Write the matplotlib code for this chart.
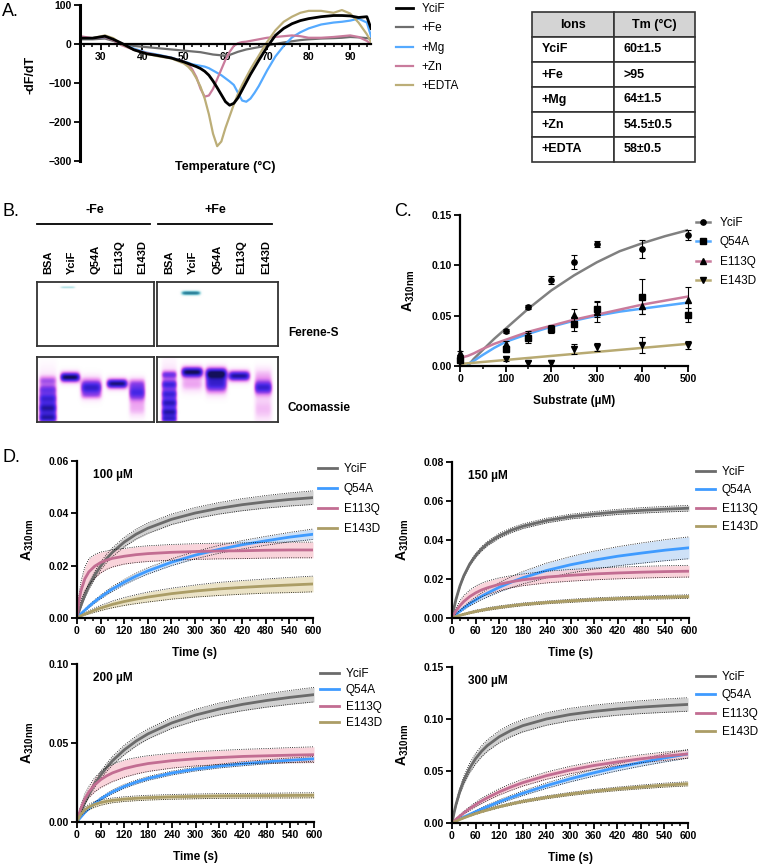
import numpy as np
import matplotlib
matplotlib.use('Agg')
import matplotlib.pyplot as plt
from matplotlib.ticker import MultipleLocator, FormatStrFormatter
from matplotlib.colors import LinearSegmentedColormap
from matplotlib.lines import Line2D

plt.rcParams['font.family'] = ['Liberation Sans', 'DejaVu Sans']
plt.rcParams['mathtext.fontset'] = 'custom'
plt.rcParams['mathtext.rm'] = 'Liberation Sans'
plt.rcParams['mathtext.bf'] = 'Liberation Sans:bold'

#Panel A - melt curves
tempA = [25, 28, 31, 33, 35, 38, 41, 44, 47, 50, 51, 52, 53, 54, 55, 56, 57, 58, 59, 60, 61,
         62, 63, 64, 65, 66, 67, 68, 69, 70, 72, 74, 76, 78, 80, 83, 86, 88, 90, 92, 94, 95]
yciF_A = [15, 15, 20, 12, 2, -15, -25, -30, -36, -46, -50, -54, -58, -63, -70, -80, -95, -112, -130, -148, -157,
          -152, -138, -118, -98, -78, -60, -42, -25, -8, 22, 40, 52, 60, 65, 70, 73, 73, 72, 68, 70, 40]
fe_A = [12, 12, 14, 8, 0, -5, -8, -11, -14, -17, -18, -19, -20, -21, -23, -25, -27, -28, -29, -30, -28,
        -24, -20, -17, -14, -12, -10, -8, -6, -4, 0, 4, 7, 10, 12, 14, 15, 16, 18, 17, 15, 14]
mg_A = [15, 15, 18, 12, 0, -12, -22, -28, -35, -45, -48, -52, -54, -56, -58, -62, -68, -74, -80, -88, -96,
        -105, -125, -145, -148, -140, -125, -108, -88, -68, -32, -5, 17, 30, 40, 50, 55, 57, 60, 65, 55, 20]
zn_A = [20, 15, 18, 10, -3, -15, -23, -30, -36, -45, -52, -65, -85, -115, -135, -132, -115, -90, -65, -40, -20,
        -5, 2, 5, 6, 8, 10, 12, 14, 16, 18, 20, 22, 20, 16, 16, 18, 20, 22, 18, 8, 0]
edta_A = [15, 15, 22, 15, 0, -15, -25, -32, -37, -50, -58, -70, -88, -110, -140, -180, -230, -262, -250, -215, -185,
          -155, -128, -105, -85, -65, -47, -30, -12, 5, 35, 57, 70, 80, 85, 85, 80, 87, 78, 55, 25, 5]
labelsA = ['YciF', '+Fe', '+Mg', '+Zn', '+EDTA']
colorsA = ['#000000', '#6e6e6e', '#55aaff', '#c97b9c', '#bcae78']

tableRows = [['YciF', '60±1.5'], ['+Fe', '>95'], ['+Mg', '64±1.5'], ['+Zn', '54.5±0.5'], ['+EDTA', '58±0.5']]

#Panel B - gels (lane centre, lane half width, bands as (y, half height, strength))
lanesB = ['BSA', 'YciF', 'Q54A', 'E113Q', 'E143D']
coomMinusX = [0.45, 1.4, 2.3, 3.4, 4.25]
coomMinusW = [0.38, 0.42, 0.45, 0.45, 0.35]
coomMinusBands = [
    [(0.36, 0.07, 0.3), (0.50, 0.07, 0.35), (0.64, 0.08, 0.45), (0.79, 0.08, 0.6), (0.94, 0.08, 0.7), (0.66, 0.36, 0.3)],
    [(0.31, 0.075, 1.0)],
    [(0.47, 0.13, 0.8), (0.60, 0.05, 0.15)],
    [(0.41, 0.075, 0.95)],
    [(0.40, 0.08, 0.3), (0.55, 0.13, 0.7), (0.80, 0.12, 0.22)],
]
coomPlusX = [0.5, 1.45, 2.45, 3.4, 4.4]
coomPlusW = [0.32, 0.45, 0.45, 0.45, 0.37]
coomPlusBands = [
    [(0.27, 0.06, 0.45), (0.42, 0.07, 0.5), (0.57, 0.07, 0.45), (0.71, 0.07, 0.55), (0.85, 0.07, 0.65),
     (0.96, 0.06, 0.6), (0.6, 0.4, 0.3)],
    [(0.23, 0.08, 1.0), (0.42, 0.11, 0.25)],
    [(0.25, 0.09, 0.95), (0.42, 0.13, 0.75)],
    [(0.29, 0.08, 0.9)],
    [(0.28, 0.12, 0.2), (0.47, 0.11, 0.75), (0.80, 0.2, 0.2)],
]
ferMinusX = [1.3]
ferMinusW = [0.3]
ferMinusBands = [[(0.08, 0.015, 0.3)]]
ferPlusX = [1.4]
ferPlusW = [0.38]
ferPlusBands = [[(0.17, 0.03, 1.0)]]

#Panel C - activity vs substrate
substrate = [0, 100, 150, 200, 250, 300, 400, 500]
yciF_C = [0.006, 0.035, 0.059, 0.085, 0.103, 0.121, 0.116, 0.130]
yciF_Cerr = [0.002, 0.002, 0.002, 0.004, 0.007, 0.003, 0.009, 0.005]
q54a_C = [0.006, 0.017, 0.028, 0.037, 0.042, 0.057, 0.069, 0.051]
q54a_Cerr = [0.002, 0.003, 0.005, 0.004, 0.007, 0.008, 0.017, 0.007]
e113q_C = [0.013, 0.022, 0.031, 0.037, 0.051, 0.054, 0.060, 0.066]
e113q_Cerr = [0.002, 0.003, 0.004, 0.003, 0.006, 0.010, 0.008, 0.012]
e143d_C = [0.005, 0.007, 0.003, 0.003, 0.017, 0.019, 0.021, 0.021]
e143d_Cerr = [0.002, 0.002, 0.002, 0.003, 0.005, 0.004, 0.008, 0.004]
fitX_C = [0, 17, 30, 50, 75, 100, 150, 200, 250, 300, 350, 400, 450, 500]
yciF_fit = [np.nan, 0.0, 0.007, 0.016, 0.027, 0.037, 0.057, 0.075, 0.090, 0.103, 0.114, 0.122, 0.129, 0.135]
q54a_fit = [np.nan, 0.002, 0.005, 0.011, 0.018, 0.024, 0.032, 0.039, 0.045, 0.050, 0.054, 0.057, 0.060, 0.063]
e113q_fit = [0.008, 0.010, 0.0125, 0.017, 0.022, 0.026, 0.034, 0.040, 0.046, 0.051, 0.056, 0.061, 0.065, 0.069]
e143d_fit = [0.002, 0.0027, 0.0032, 0.004, 0.005, 0.006, 0.008, 0.010, 0.012, 0.014, 0.016, 0.018, 0.020, 0.022]

#Panel D - time courses (YciF, Q54A, E113Q, E143D), fitted mean and band half width
timeD = [0, 5, 10, 20, 30, 45, 60, 75, 90, 120, 150, 180, 240, 300, 360, 420, 480, 540, 600]
d100Mean = [
    [0, .0025, .0048, .0088, .0122, .0164, .0198, .0227, .0251, .0290, .0320, .0343, .0377, .0401, .0419, .0433, .0444, .0453, .0460],
    [0, .0008, .0016, .0030, .0044, .0063, .0080, .0096, .0111, .0137, .0160, .0180, .0213, .0240, .0262, .0280, .0295, .0309, .0320],
    [0, .0065, .0104, .0150, .0176, .0198, .0212, .0221, .0228, .0236, .0242, .0246, .0251, .0254, .0256, .0257, .0259, .0260, .0260],
    [0, .0004, .0008, .0015, .0021, .0030, .0038, .0045, .0052, .0063, .0072, .0080, .0093, .0103, .0111, .0117, .0122, .0126, .0130]]
d100Band = [
    [0, .0004, .0007, .001, .0012, .0014, .0015, .0016, .0017, .0018, .0019, .002, .002, .0021, .0022, .0023, .0024, .0025, .0026],
    [0, .0001, .0002, .0003, .0005, .0006, .0007, .0008, .0009, .001, .0011, .0012, .0013, .0014, .0015, .0016, .0017, .0018, .002],
    [0, .002, .0035, .0045, .005, .0045, .004, .0035, .0033, .003, .003, .003, .003, .003, .003, .003, .003, .003, .003],
    [0, .0001, .0002, .0004, .0006, .0008, .001, .0011, .0013, .0015, .0017, .0019, .0021, .0023, .0025, .0026, .0027, .0029, .003]]
d150Mean = [
    [0, .0051, .0095, .0164, .0217, .0277, .0321, .0355, .0382, .0422, .0450, .0471, .0500, .0520, .0533, .0544, .0552, .0558, .0563],
    [0, .0009, .0018, .0035, .0051, .0073, .0093, .0112, .0128, .0158, .0184, .0207, .0244, .0273, .0297, .0317, .0333, .0348, .0360],
    [0, .0019, .0036, .0063, .0085, .0110, .0129, .0144, .0155, .0173, .0186, .0196, .0210, .0219, .0226, .0231, .0235, .0238, .0240],
    [0, .0004, .0007, .0014, .0019, .0027, .0034, .0040, .0046, .0055, .0063, .0070, .0080, .0088, .0095, .0100, .0104, .0107, .0110]]
d150Band = [
    [0, .0003, .0005, .0007, .0008, .0009, .001, .0011, .0011, .0012, .0012, .0012, .0012, .0012, .0013, .0013, .0014, .0014, .0015],
    [0, .0001, .0003, .0005, .0008, .0011, .0014, .0017, .002, .0024, .0028, .0032, .0038, .0042, .0046, .0049, .0052, .0054, .0056],
    [0, .0008, .0015, .0025, .003, .0033, .0035, .0035, .0035, .0033, .0031, .003, .003, .003, .003, .003, .003, .003, .003],
    [0, .0001, .0002, .0003, .0004, .0005, .0006, .0006, .0007, .0007, .0007, .0007, .0007, .0008, .0008, .0008, .0008, .0009, .0009]]
d200Mean = [
    [0, .0034, .0066, .0124, .0175, .0241, .0297, .0345, .0388, .0457, .0513, .0558, .0627, .0677, .0715, .0745, .0769, .0789, .0806],
    [0, .0017, .0032, .0061, .0086, .0118, .0146, .0170, .0191, .0226, .0253, .0276, .0310, .0335, .0354, .0369, .0381, .0391, .0400],
    [0, .0049, .0088, .0147, .0190, .0236, .0268, .0292, .0311, .0338, .0356, .0370, .0388, .0400, .0408, .0415, .0419, .0423, .0426],
    [0, .0028, .0049, .0077, .0094, .0112, .0123, .0131, .0137, .0145, .0150, .0154, .0159, .0162, .0165, .0166, .0167, .0168, .0169]]
d200Band = [
    [0, .0004, .0008, .0012, .0016, .002, .0023, .0025, .0027, .003, .0031, .0032, .0034, .0036, .0038, .004, .0042, .0044, .0046],
    [0, .0002, .0003, .0005, .0007, .0008, .0009, .001, .0011, .0012, .0012, .0012, .0012, .0012, .0012, .0013, .0013, .0014, .0015],
    [0, .001, .002, .003, .0035, .0045, .005, .0055, .0055, .0055, .0052, .005, .0047, .0045, .0045, .0045, .0046, .0048, .005],
    [0, .0006, .001, .0016, .0018, .0018, .0017, .0016, .0015, .0015, .0015, .0015, .0015, .0015, .0015, .0015, .0015, .0016, .0016]]
d300Mean = [
    [0, .0094, .0175, .0307, .0410, .0529, .0619, .0689, .0745, .0829, .0890, .0936, .1000, .1043, .1073, .1096, .1114, .1128, .1140],
    [0, .0010, .0019, .0038, .0057, .0083, .0109, .0134, .0158, .0204, .0246, .0286, .0359, .0424, .0482, .0535, .0582, .0625, .0664],
    [0, .0018, .0035, .0067, .0098, .0139, .0177, .0212, .0243, .0299, .0346, .0388, .0455, .0509, .0552, .0587, .0617, .0642, .0664],
    [0, .0009, .0017, .0034, .0049, .0071, .0091, .0109, .0126, .0157, .0184, .0208, .0247, .0279, .0306, .0328, .0347, .0364, .0377]]
d300Band = [
    [0, .001, .0018, .003, .0038, .0045, .005, .0053, .0055, .0058, .006, .006, .006, .006, .006, .006, .0062, .0064, .0065],
    [0, .0001, .0003, .0005, .0007, .0009, .0011, .0013, .0015, .0018, .002, .0022, .0026, .0029, .0032, .0034, .0036, .0038, .004],
    [0, .0003, .0006, .001, .0014, .0018, .0022, .0025, .0027, .003, .0032, .0033, .0035, .0036, .0037, .0038, .0039, .004, .004],
    [0, .0001, .0002, .0004, .0005, .0007, .0008, .0009, .001, .0011, .0012, .0013, .0014, .0015, .0016, .0017, .0018, .0019, .002]]
labelsD = ['YciF', 'Q54A', 'E113Q', 'E143D']
lineColorsD = ['#6b6b6b', '#3f9bff', '#c26d92', '#ab9d66']
bandColorsD = ['#c9c9c9', '#c6dcf6', '#f8cdd5', '#e8dfbd']

#Layout helpers (pixels of a 760x866 figure)
W, H = 760, 866
def box(l, t, r, b):
    return [l / W, 1 - b / H, (r - l) / W, (b - t) / H]
def fxy(x, y):
    return (x / W, 1 - y / H)

fig = plt.figure(figsize=(7.6, 8.66), dpi=100)

def style_axes(ax, tick_size=7.5):
    for s in ['top', 'right']:
        ax.spines[s].set_visible(False)
    for s in ['left', 'bottom']:
        ax.spines[s].set_linewidth(1.6)
    ax.tick_params(which='major', length=4, width=1.3, labelsize=tick_size, pad=2)
    ax.tick_params(which='minor', length=2.5, width=1.1)
    for lab in ax.get_xticklabels() + ax.get_yticklabels():
        lab.set_fontweight('bold')

#Panel A
axA = fig.add_axes(box(80, 5, 371, 161))
linesA = []
for ys, lab, col in zip([yciF_A, fe_A, mg_A, zn_A, edta_A], labelsA, colorsA):
    ln, = axA.plot(tempA, ys, color=col, lw=2.0 if lab == 'YciF' else 1.6, label=lab)
    linesA.append(ln)
linesA[0].set_zorder(5)
axA.set_xlim(25, 95)
axA.set_ylim(-300, 100)
axA.spines['bottom'].set_position(('data', 0))
axA.set_xticks([30, 40, 50, 60, 70, 80, 90])
axA.xaxis.set_minor_locator(MultipleLocator(2))
axA.set_yticks([100, 0, -100, -200, -300])
style_axes(axA)
axA.spines['left'].set_linewidth(2.2)
axA.set_ylabel('-dF/dT', fontweight='bold', fontsize=9)
axA.yaxis.set_label_coords(-0.15, 0.55)
fig.text(*fxy(225, 167), 'Temperature (°C)', ha='center', va='center', fontweight='bold', fontsize=9)
axA.legend(handles=linesA, loc='upper left', bbox_to_anchor=fxy(396, 3), bbox_transform=fig.transFigure,
           frameon=False, fontsize=8.5, handlelength=1.4, handletextpad=0.75, labelspacing=0.62,
           borderpad=0, borderaxespad=0)
fig.text(*fxy(2, 12), 'A.', ha='left', va='center', fontsize=13)

#Table
axT = fig.add_axes(box(532, 12, 695, 162))
axT.axis('off')
tbl = axT.table(cellText=tableRows, colLabels=['Ions', 'Tm (°C)'], bbox=[0, 0, 1, 1],
                cellLoc='left', colWidths=[82 / 163, 81 / 163])
tbl.auto_set_font_size(False)
for (r, c), cell in tbl.get_celld().items():
    cell.set_linewidth(1.2)
    cell.set_edgecolor('#333333')
    cell.get_text().set_fontweight('bold')
    cell.get_text().set_fontsize(9)
    cell.PAD = 0.12
    if r == 0:
        cell.set_facecolor('#d4d4d4')

#Panel B
cmapCoom = LinearSegmentedColormap.from_list('coom', [(0, '#ffffff'), (0.12, '#fbe0fb'), (0.3, '#e890ee'),
                                                      (0.5, '#9040e8'), (0.7, '#4828e8'), (0.85, '#2a18b8'),
                                                      (1.0, '#14105a')])
cmapFer = LinearSegmentedColormap.from_list('fer', [(0, '#ffffff'), (0.3, '#a8dde2'), (0.7, '#3d9ab3'),
                                                    (1.0, '#2a7a92')])

def draw_gel(ax, xs, ws, bands, cmap):
    gx = np.linspace(0, 5, 250)
    gy = np.linspace(0, 1, 130)
    img = np.zeros((gy.size, gx.size))
    for c, w, lane in zip(xs, ws, bands):
        fx = np.exp(-((gx - c) / w) ** 6)
        for yc, hy, s in lane:
            fy = np.exp(-((gy - yc) / hy) ** 2)
            img += s * np.outer(fy, fx)
    ax.imshow(np.clip(img, 0, 1), extent=(0, 5, 1, 0), aspect='auto', cmap=cmap, vmin=0, vmax=1,
              interpolation='bilinear')
    ax.set_xlim(0, 5)
    ax.set_ylim(1, 0)
    ax.set_xticks([])
    ax.set_yticks([])
    for s in ax.spines.values():
        s.set_linewidth(1.3)
        s.set_edgecolor('#333333')

axFm = fig.add_axes(box(37, 282, 154, 346))
axFp = fig.add_axes(box(157, 282, 278, 346))
axCm = fig.add_axes(box(37, 357, 154, 422))
axCp = fig.add_axes(box(157, 357, 278, 422))
draw_gel(axFm, ferMinusX, ferMinusW, ferMinusBands, cmapFer)
draw_gel(axFp, ferPlusX, ferPlusW, ferPlusBands, cmapFer)
draw_gel(axCm, coomMinusX, coomMinusW, coomMinusBands, cmapCoom)
draw_gel(axCp, coomPlusX, coomPlusW, coomPlusBands, cmapCoom)
for ax in [axFm, axFp]:
    for i, lab in enumerate(lanesB):
        ax.text(i + 0.5, 1.12, lab, transform=ax.get_xaxis_transform(), rotation=90, ha='center',
                va='bottom', fontweight='bold', fontsize=8)
fig.text(*fxy(95, 210), '-Fe', ha='center', va='center', fontweight='bold', fontsize=9)
fig.text(*fxy(215, 210), '+Fe', ha='center', va='center', fontweight='bold', fontsize=9)
fig.add_artist(Line2D([37 / W, 150 / W], [1 - 224 / H] * 2, color='k', lw=1.3))
fig.add_artist(Line2D([158 / W, 272 / W], [1 - 224 / H] * 2, color='k', lw=1.3))
fig.text(*fxy(288, 333), 'Ferene-S', ha='left', va='center', fontweight='bold', fontsize=8.5)
fig.text(*fxy(288, 408), 'Coomassie', ha='left', va='center', fontweight='bold', fontsize=8.5)
fig.text(*fxy(2, 212), 'B.', ha='left', va='center', fontsize=13)

#Panel C
axC = fig.add_axes(box(460, 215, 688, 366))
lineColorsC = ['#808080', '#55aaff', '#c97b9c', '#b8aa72']
markersC = ['o', 's', '^', 'v']
handlesC = []
for fit, pts, err, lab, col, mk in zip([yciF_fit, q54a_fit, e113q_fit, e143d_fit],
                                       [yciF_C, q54a_C, e113q_C, e143d_C],
                                       [yciF_Cerr, q54a_Cerr, e113q_Cerr, e143d_Cerr],
                                       labelsD, lineColorsC, markersC):
    axC.plot(fitX_C, fit, color=col, lw=1.8, zorder=2)
    axC.errorbar(substrate, pts, yerr=err, fmt=mk, color='k', ms=3.8, elinewidth=0.8, capsize=2,
                 capthick=0.8, zorder=3, clip_on=False)
    handlesC.append(Line2D([], [], color=col, lw=1.8, marker=mk, markerfacecolor='k',
                           markeredgecolor='k', ms=3.8, label=lab))
axC.set_xlim(0, 500)
axC.set_ylim(0, 0.15)
axC.set_xticks([0, 100, 200, 300, 400, 500])
axC.xaxis.set_minor_locator(MultipleLocator(50))
axC.set_yticks([0, 0.05, 0.10, 0.15])
axC.yaxis.set_major_formatter(FormatStrFormatter('%.2f'))
style_axes(axC)
axC.set_ylabel(r'$\mathbf{A}_{\mathbf{310nm}}$', fontsize=10)
axC.yaxis.set_label_coords(-0.19, 0.5)
axC.set_xlabel('Substrate (µM)', fontweight='bold', fontsize=8.5, labelpad=8)
axC.legend(handles=handlesC, loc='upper left', bbox_to_anchor=fxy(696, 217), bbox_transform=fig.transFigure,
           frameon=False, fontsize=8.5, handlelength=1.2, handletextpad=0.8, labelspacing=0.62,
           borderpad=0, borderaxespad=0)
fig.text(*fxy(394, 212), 'C.', ha='left', va='center', fontsize=13)

#Panel D
def time_panel(rect, means, bands, ymax, yticks, conc, leg_xy, spacing):
    ax = fig.add_axes(box(*rect))
    t = np.array(timeD)
    handles = []
    for m, b, lab, lc, bc in zip(means, bands, labelsD, lineColorsD, bandColorsD):
        m = np.array(m)
        b = np.array(b)
        lo = np.clip(m - b, 0, None)
        hi = m + b
        ax.fill_between(t, lo, hi, color=bc, alpha=0.85, lw=0)
        ax.plot(t, lo, color='k', ls=':', lw=0.6)
        ax.plot(t, hi, color='k', ls=':', lw=0.6)
        ln, = ax.plot(t, m, color=lc, lw=2.0, label=lab)
        handles.append(ln)
    ax.set_xlim(0, 600)
    ax.set_ylim(0, ymax)
    ax.set_xticks(np.arange(0, 601, 60))
    ax.xaxis.set_minor_locator(MultipleLocator(20))
    ax.set_yticks(yticks)
    ax.yaxis.set_major_formatter(FormatStrFormatter('%.2f'))
    style_axes(ax)
    ax.set_ylabel(r'$\mathbf{A}_{\mathbf{310nm}}$', fontsize=10)
    ax.yaxis.set_label_coords(-0.175, 0.5)
    ax.set_xlabel('Time (s)', fontweight='bold', fontsize=8.5, labelpad=8)
    ax.text(0.068, 0.91, conc, transform=ax.transAxes, ha='left', va='center', fontweight='bold', fontsize=8.5)
    ax.legend(handles=handles, loc='upper left', bbox_to_anchor=fxy(*leg_xy), bbox_transform=fig.transFigure,
              frameon=False, fontsize=8.5, handlelength=1.6, handletextpad=0.6, labelspacing=spacing,
              borderpad=0, borderaxespad=0)
    return ax

time_panel((77, 461, 313, 618), d100Mean, d100Band, 0.06, [0, 0.02, 0.04, 0.06], '100 µM', (318, 463), 0.68)
time_panel((452, 462, 689, 618), d150Mean, d150Band, 0.08, [0, 0.02, 0.04, 0.06, 0.08], '150 µM', (696, 466), 0.54)
time_panel((77, 664, 314, 822), d200Mean, d200Band, 0.10, [0, 0.05, 0.10], '200 µM', (320, 668), 0.38)
time_panel((452, 667, 688, 823), d300Mean, d300Band, 0.15, [0, 0.05, 0.10, 0.15], '300 µM', (696, 671), 0.55)
fig.text(*fxy(2, 458), 'D.', ha='left', va='center', fontsize=13)

fig.savefig('out.png', dpi=100)
